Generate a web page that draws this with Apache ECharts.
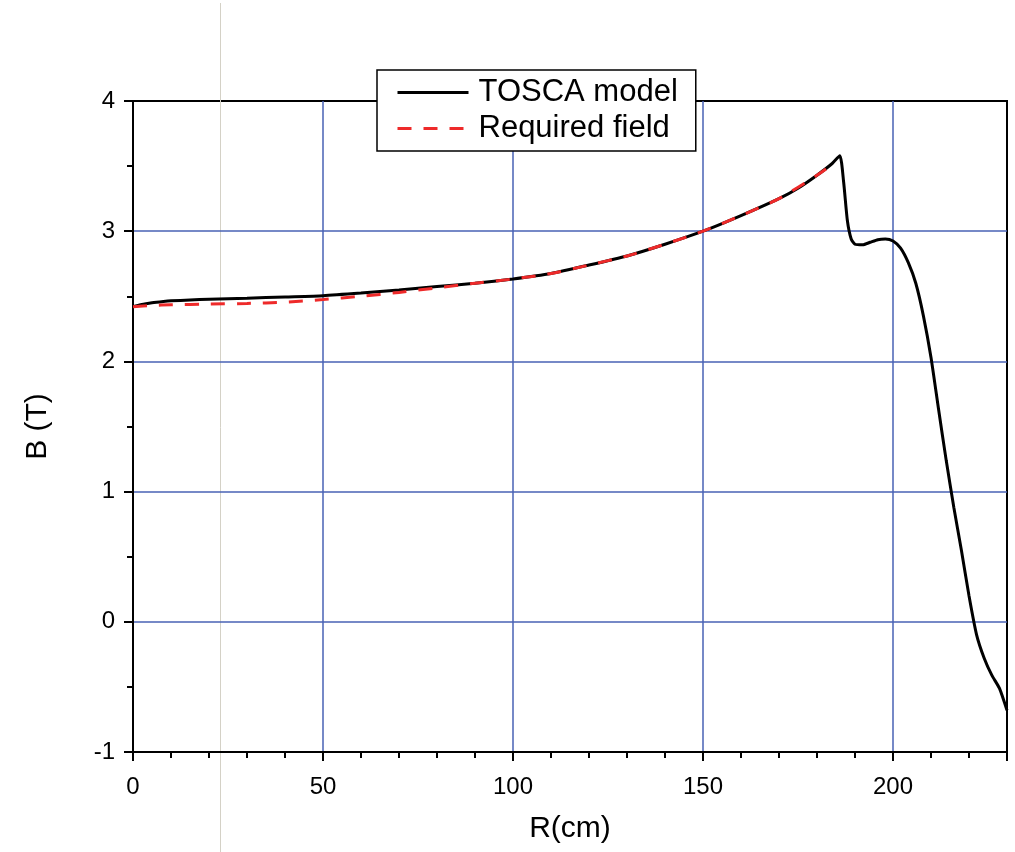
<!DOCTYPE html>
<html>
<head>
<meta charset="utf-8">
<title>B vs R</title>
<script src="https://cdn.jsdelivr.net/npm/echarts@6/dist/echarts.min.js"></script>
<style>
  html, body { margin: 0; padding: 0; background: #fff; }
  #chart { width: 1015px; height: 852px; }
</style>
</head>
<body>
<div id="chart"></div>
<script>
// TOSCA model (R in cm, B in T)
var toscaR = [0, 2, 5, 8, 10, 15, 20, 30, 40, 50, 60, 70, 80, 90, 100, 110, 120, 130, 140, 150,
  160, 170, 175, 180, 184, 186, 187, 188, 189, 190, 192, 194, 196, 198, 200, 202, 204, 206, 208,
  210, 212, 214, 216, 218, 220, 222, 224, 226, 228, 230];
var toscaB = [2.42, 2.435, 2.45, 2.46, 2.465, 2.472, 2.478, 2.485, 2.495, 2.505, 2.525, 2.548, 2.575, 2.60, 2.633, 2.675, 2.74, 2.81, 2.90, 3.00,
  3.12, 3.25, 3.33, 3.43, 3.52, 3.58, 3.38, 3.08, 2.94, 2.90, 2.895, 2.915, 2.935, 2.94, 2.925, 2.87, 2.76, 2.60, 2.35,
  2.03, 1.63, 1.24, 0.88, 0.55, 0.20, -0.10, -0.28, -0.41, -0.51, -0.68];

// required field
var reqR = [0, 5, 10, 20, 30, 40, 50, 60, 70, 80, 90, 100, 110, 120, 130, 140, 150, 160, 170, 180, 185];
var reqB = [2.42, 2.43, 2.435, 2.44, 2.445, 2.455, 2.475, 2.50, 2.53, 2.565, 2.60, 2.633, 2.675, 2.74, 2.81, 2.90, 3.00, 3.12, 3.25, 3.43, 3.53];

var xMin = 0, xMax = 230, xStep = 50, xMinor = 10;
var yMin = -1, yMax = 4, yStep = 1;

function pairs(xs, ys) {
  return xs.map(function (x, i) { return [x, ys[i]]; });
}

var chart = echarts.init(document.getElementById('chart'));
var gridBlue = '#4862b4';
var font = 'Liberation Sans, Arial, sans-serif';

chart.setOption({
  animation: false,
  backgroundColor: '#fff',
  graphic: [{
    // faint vertical rule across the page
    type: 'line', z: 0,
    shape: { x1: 220.5, y1: 3, x2: 220.5, y2: 852 },
    style: { stroke: '#d4d1c6', lineWidth: 1 }
  }],
  grid: {
    left: 133, right: 8, top: 101, bottom: 100,
    show: true, borderColor: '#000', borderWidth: 2, backgroundColor: 'transparent'
  },
  legend: {
    orient: 'vertical',
    left: 377, top: 70,
    padding: [7, 18, 7, 19],
    backgroundColor: '#fff',
    borderColor: '#000', borderWidth: 1.5, borderRadius: 0,
    itemWidth: 71, itemHeight: 14, itemGap: 5,
    itemStyle: { opacity: 0 },
    lineStyle: { width: 3 },
    textStyle: { fontFamily: font, fontSize: 31, color: '#000', padding: [0, 0, 0, 5] },
    data: ['TOSCA model', 'Required field']
  },
  xAxis: [{
    type: 'value', min: xMin, max: xMax, interval: xStep,
    name: 'R(cm)', nameLocation: 'middle', nameGap: 62,
    nameTextStyle: { fontFamily: font, fontSize: 30, color: '#000' },
    axisLine: { onZero: false, lineStyle: { color: '#000', width: 2 } },
    axisTick: { length: 9, lineStyle: { color: '#000', width: 2 } },
    axisLabel: {
      fontFamily: font, fontSize: 24, color: '#000', margin: 23,
      formatter: function (v) { return v % xStep === 0 ? String(v) : ''; }
    },
    splitLine: { show: true, showMinLine: false, showMaxLine: false, lineStyle: { color: gridBlue, width: 1.5 } }
  }, {
    type: 'value', min: xMin, max: xMax, interval: xMinor, position: 'bottom',
    axisLine: { show: false, onZero: false },
    axisTick: { length: 6, lineStyle: { color: '#000', width: 2 } },
    axisLabel: { show: false },
    splitLine: { show: false }
  }],
  yAxis: {
    type: 'value', min: yMin, max: yMax, interval: yStep,
    name: 'B (T)', nameLocation: 'middle', nameGap: 80,
    nameTextStyle: { fontFamily: font, fontSize: 30, color: '#000' },
    axisLine: { onZero: false, lineStyle: { color: '#000', width: 2 } },
    axisTick: { length: 9, lineStyle: { color: '#000', width: 2 } },
    minorTick: { show: true, splitNumber: 2, length: 6, lineStyle: { color: '#000', width: 2 } },
    axisLabel: { fontFamily: font, fontSize: 24, color: '#000', margin: 18 },
    splitLine: { show: true, showMinLine: false, showMaxLine: false, lineStyle: { color: gridBlue, width: 1.5 } }
  },
  series: [{
    name: 'TOSCA model', type: 'line', xAxisIndex: 0,
    symbol: 'none', smooth: 0.2,
    lineStyle: { color: '#000', width: 3 },
    itemStyle: { color: '#000' },
    data: pairs(toscaR, toscaB)
  }, {
    name: 'Required field', type: 'line', xAxisIndex: 0,
    symbol: 'none', smooth: 0.2,
    lineStyle: { color: '#ee2a2a', width: 3, type: [14, 12] },
    itemStyle: { color: '#ee2a2a' },
    data: pairs(reqR, reqB)
  }]
});
</script>
</body>
</html>
